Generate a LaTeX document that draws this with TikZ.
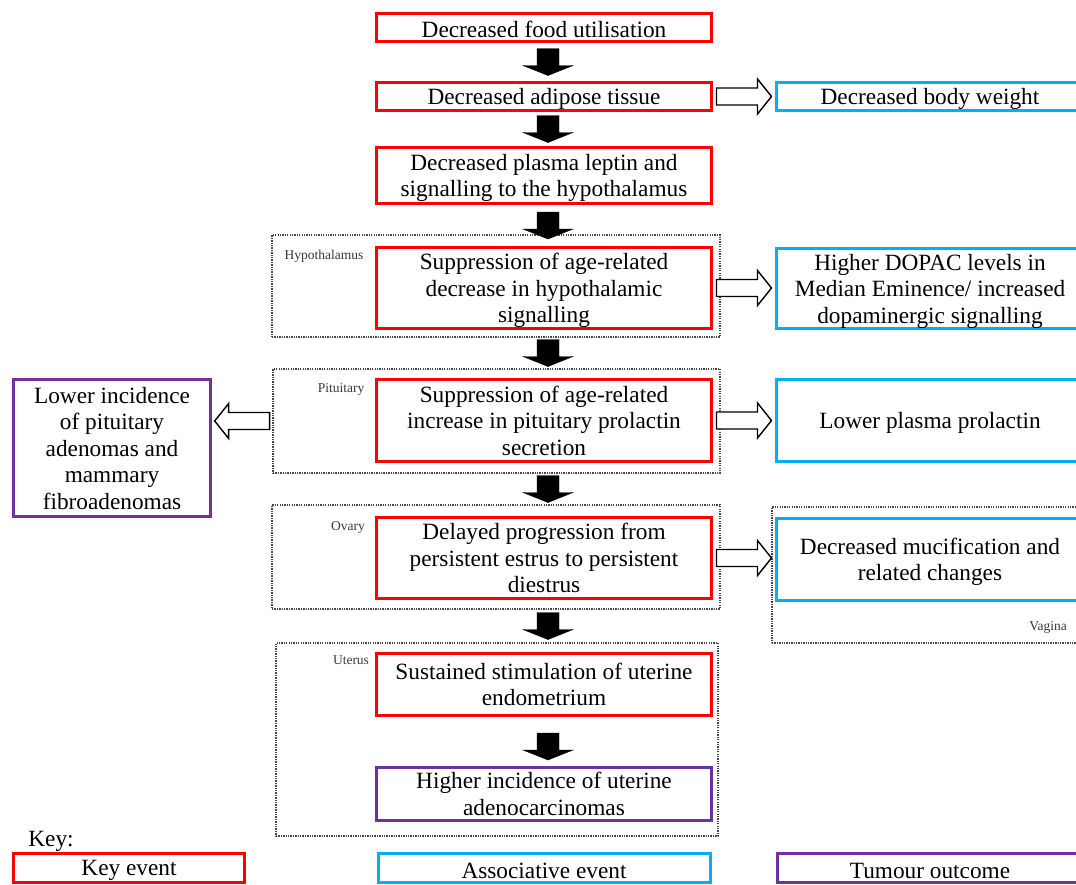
\documentclass[tikz,border=0pt]{standalone}
\usepackage{fontspec}
\setmainfont{Liberation Serif}
\usepackage{tikz}
\usetikzlibrary{calc}

\definecolor{keyred}{RGB}{255,0,0}
\definecolor{assocblue}{RGB}{0,176,240}
\definecolor{tumpurple}{RGB}{112,48,160}
\definecolor{grpgray}{RGB}{70,70,70}

\begin{document}
\begin{tikzpicture}[
    x=1pt, y=-1pt,
    every node/.style={font=\fontsize{23.3}{26.5}\selectfont, align=center, inner sep=0pt},
    boxtxt/.style={execute at begin node={\rule{0pt}{20.5pt}}},
    mltxt/.style={text depth=0pt},
    kev/.style={boxtxt, draw=keyred, line width=3pt, minimum width=335pt},
    aev/.style={boxtxt, draw=assocblue, line width=3pt, minimum width=307pt},
    tev/.style={boxtxt, draw=tumpurple, line width=3pt},
    grp/.style={draw=grpgray, line width=1.3pt, dash pattern=on 1.3pt off 1.1pt},
    glbl/.style={font=\fontsize{13.5}{16}\selectfont, text=grpgray!80!black},
    dn/.style={fill=black, to path={
        let \p1=(\tikztostart), \p3=($(\tikztostart)!0.5!(\tikztotarget)$) in
        (\x1-7pt,\y3+13.5pt) -- (\x1+15pt,\y3+13.5pt) -- (\x1+15pt,\y3-3.5pt)
        -- (\x1+29pt,\y3-3.5pt) -- (\x1+4pt,\y3-13.5pt) -- (\x1-21pt,\y3-3.5pt)
        -- (\x1-7pt,\y3-3.5pt) -- cycle}},
    op/.style={draw=black, fill=white, line width=1.4pt, line join=miter, to path={
        let \p1=(\tikztostart), \p3=($(\tikztostart)!0.5!(\tikztotarget)$) in
        ({\x3-(#1)*27.5pt},\y1+8.5pt) -- ({\x3+(#1)*13.5pt},\y1+8.5pt) -- ({\x3+(#1)*13.5pt},\y1+17.5pt)
        -- ({\x3+(#1)*27.5pt},\y1) -- ({\x3+(#1)*13.5pt},\y1-17.5pt) -- ({\x3+(#1)*13.5pt},\y1-8.5pt)
        -- ({\x3-(#1)*27.5pt},\y1-8.5pt) -- cycle}},
    op/.default=1,
  ]
  \useasboundingbox (0,0) rectangle (1076,884);
  \clip (0,0) rectangle (1076,884);

  % dotted organ boxes
  \node[grp, minimum width=448pt, minimum height=102pt] (hyp) at (496, 286) {};
  \node[grp, minimum width=447pt, minimum height=104pt] (pit) at (496.5, 421) {};
  \node[grp, minimum width=448pt, minimum height=104pt] (ova) at (496, 557) {};
  \node[grp, minimum width=442pt, minimum height=193pt] (ute) at (497, 739.5) {};
  \node[grp, minimum width=318pt, minimum height=136pt] (vag) at (931, 575) {};
  \node[glbl] (hypl) at (324, 256) {Hypothalamus};
  \node[glbl] (pitl) at (341, 389) {Pituitary};
  \node[glbl] (oval) at (348, 527) {Ovary};
  \node[glbl] (utel) at (351, 660) {Uterus};
  \node[glbl] (vagl) at (1048, 627) {Vagina};

  % key events
  \node[kev, minimum height=28pt] (ke1) at (544, 27.5) {Decreased food utilisation};
  \node[kev, minimum height=28pt] (ke2) at (544, 96.5) {Decreased adipose tissue};
  \node[kev, mltxt, minimum height=56pt] (ke3) at (544, 175.5) {Decreased plasma leptin and\\ signalling to the hypothalamus};
  \node[kev, mltxt, minimum height=81pt] (ke4) at (544, 288) {Suppression of age-related\\ decrease in hypothalamic\\ signalling};
  \node[kev, minimum height=82pt] (ke5) at (544, 420.5) {Suppression of age-related\\ increase in pituitary prolactin\\ secretion};
  \node[kev, mltxt, minimum height=81pt] (ke6) at (544, 558) {Delayed progression from\\ persistent estrus to persistent\\ diestrus};
  \node[kev, mltxt, minimum height=62pt] (ke7) at (544, 684.5) {Sustained stimulation of uterine\\ endometrium};

  % associative events
  \node[aev, minimum height=28pt] (ae1) at (930, 96.5) {Decreased body weight};
  \node[aev, mltxt, minimum height=80pt] (ae2) at (930, 288.5) {Higher DOPAC levels in\\ Median Eminence/ increased\\ dopaminergic signalling};
  \node[aev, minimum height=82pt] (ae3) at (930, 420.5) {Lower plasma prolactin};
  \node[aev, mltxt, minimum height=82pt] (ae4) at (930, 559.5) {Decreased mucification and\\ related changes};

  % tumour outcomes
  \node[tev, mltxt, minimum width=197pt, minimum height=137pt] (to1) at (112, 448) {Lower incidence\\ of pituitary\\ adenomas and\\ mammary\\ fibroadenomas};
  \node[tev, minimum width=335pt, minimum height=53pt] (to2) at (544, 794) {Higher incidence of uterine\\ adenocarcinomas};

  % arrows
  \draw[dn] (ke1.south) to (ke2.north);
  \draw[dn] (ke2.south) to (ke3.north);
  \draw[dn] (ke3.south) to (ke4.north);
  \draw[dn] (hyp.south -| ke4.south) to (pit.north);
  \draw[dn] (pit.south -| ke5.south) to (ova.north);
  \draw[dn] (ova.south -| ke6.south) to (ute.north);
  \draw[dn] (ke7.south) to ([yshift=-10pt]to2.north);
  \draw[op] (ke2.east) to (ae1.west);
  \draw[op] (ke4.east) to (ae2.west);
  \draw[op] (ke5.east) to (ae3.west);
  \draw[op] (ke6.east) to (ae4.west);
  \draw[op=-1] (pit.west) to (to1.east);

  % key
  \node (keyl) at (51, 841) {Key:};
  \node[kev, minimum width=231pt, minimum height=29pt] (k1) at (129, 868) {Key event};
  \node[aev, minimum width=332pt, minimum height=29pt] (k2) at (544, 868) {Associative event};
  \node[tev, minimum width=306pt, minimum height=29pt] (k3) at (930, 868) {Tumour outcome};
\end{tikzpicture}
\end{document}
